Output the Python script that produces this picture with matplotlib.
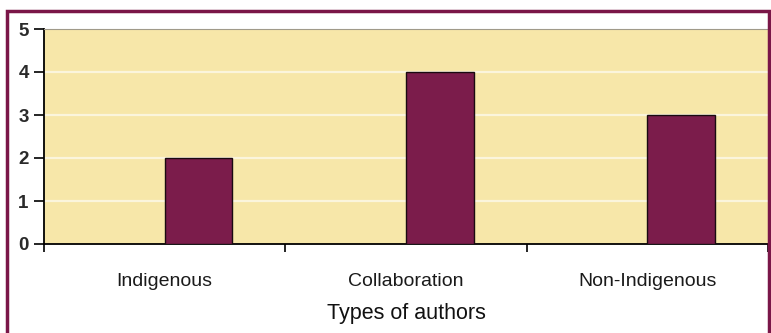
import numpy as np
import matplotlib.pyplot as plt
from matplotlib.patches import Rectangle

# data
categories = ['Indigenous', 'Collaboration', 'Non-Indigenous']
counts = [2, 4, 3]
yticks = [0, 1, 2, 3, 4, 5]

plt.rcParams['font.family'] = ['Liberation Sans', 'DejaVu Sans']

fig = plt.figure(figsize=(7.71, 3.33), dpi=100)
fig.patch.set_facecolor('white')
ax = fig.add_axes([44/771, 89/333, 724/771, 215/333])
ax.set_facecolor('#f7e7a9')

x = np.arange(len(categories))
ax.bar(x, counts, width=0.28, align='edge', color='#7b1c4b',
       edgecolor='#1a0a10', linewidth=1.0, zorder=3)

ax.set_xlim(-0.5, len(categories) - 0.5)
ax.set_ylim(0, 5)
ax.set_yticks(yticks)
ax.set_yticklabels([str(v) for v in yticks], fontsize=13.5,
                   fontweight='bold', color='#2a2a2a')
for y in yticks[1:-1]:
    ax.axhline(y, color='white', lw=1.6, alpha=0.6, zorder=1)

# ticks at category edges, labels at centres
ax.set_xticks(np.arange(len(categories) + 1) - 0.5)
ax.set_xticklabels([])
ax.set_xticks(x, minor=True)
ax.set_xticklabels(categories, minor=True, fontsize=14, color='#1a1a1a')
ax.tick_params(axis='x', which='minor', length=0, pad=21)
ax.tick_params(axis='x', which='major', length=6, width=1.2, direction='out')
ax.tick_params(axis='y', length=7, width=1.2, direction='out', pad=4)
ax.set_xlabel('Types of authors', fontsize=15.5, labelpad=9, color='#111111')

ax.spines['right'].set_visible(False)
ax.spines['top'].set_color('#a09a8a')
ax.spines['left'].set_linewidth(1.3)
ax.spines['bottom'].set_linewidth(1.3)

# dark frame around the whole chart
fig.patches.append(Rectangle((7/771, -0.05), 762/771, 1.05 - 11/333,
                             transform=fig.transFigure, fill=False,
                             edgecolor='#7a1648', linewidth=2.5))

fig.savefig('out.png', dpi=100)
